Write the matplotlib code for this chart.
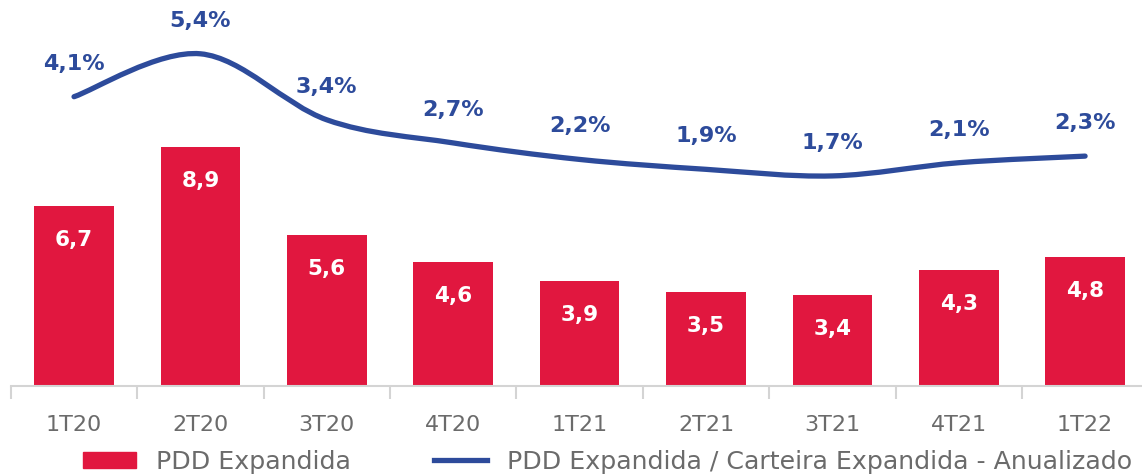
import matplotlib
matplotlib.use("Agg")
import matplotlib.pyplot as plt
import numpy as np
from matplotlib.path import Path
from matplotlib.patches import PathPatch, Patch
from matplotlib.lines import Line2D

quarters = ["1T20", "2T20", "3T20", "4T20", "1T21", "2T21", "3T21", "4T21", "1T22"]
pdd = [6.7, 8.9, 5.6, 4.6, 3.9, 3.5, 3.4, 4.3, 4.8]
ratio = [4.1, 5.4, 3.4, 2.7, 2.2, 1.9, 1.7, 2.1, 2.3]

red = "#E1173F"
blue = "#2D4B9B"
grey = "#6b6b6b"

plt.rcParams['font.family'] = ['DejaVu Sans']

fig = plt.figure(figsize=(11.42, 4.75), dpi=100)
ax = fig.add_axes([0.0095, 0.187, 0.996, 0.813])
x = np.arange(len(quarters))

# bars with value labels inside
ax.bar(x, pdd, width=0.63, color=red, zorder=2)
for xi, v in zip(x, pdd):
    ax.annotate(f"{v:.1f}".replace(".", ","), (xi, v), xytext=(0, -34),
                textcoords="offset pixels", ha="center", va="center",
                color="white", fontsize=15.5, fontweight="bold")

ax.set_xlim(-0.5, len(quarters) - 0.5)
ax.set_ylim(0, 14.35)
ax.set_yticks([])
for s in ["top", "right", "left"]:
    ax.spines[s].set_visible(False)
ax.spines["bottom"].set_color("#d4d4d4")
ax.spines["bottom"].set_linewidth(1.5)
ax.set_xticks(x)
ax.set_xticklabels(quarters, fontsize=16, color=grey)
ax.tick_params(axis="x", which="major", length=0, pad=21)
ax.set_xticks(np.arange(len(quarters) + 1) - 0.5, minor=True)
ax.tick_params(axis="x", which="minor", length=9, width=1.5, color="#d4d4d4")

# smooth ratio line on a second axis
ax2 = ax.twinx()
ax2.set_ylim(-4.67, 7.03)
ax2.axis("off")
pts = np.column_stack([x, ratio]).astype(float)
verts = [tuple(pts[0])]
codes = [Path.MOVETO]
n = len(pts)
for i in range(n - 1):
    p0 = pts[max(i - 1, 0)]
    p1 = pts[i]
    p2 = pts[i + 1]
    p3 = pts[min(i + 2, n - 1)]
    c1 = p1 + (p2 - p0) / 6
    c2 = p2 - (p3 - p1) / 6
    verts += [tuple(c1), tuple(c2), tuple(p2)]
    codes += [Path.CURVE4] * 3
ax2.add_patch(PathPatch(Path(verts, codes), facecolor="none", edgecolor=blue,
                        lw=3.8, capstyle="round", zorder=3))
for xi, v in zip(x, ratio):
    ax2.annotate(f"{v:.1f}%".replace(".", ","), (xi, v), xytext=(0, 33),
                 textcoords="offset pixels", ha="center", va="center",
                 color=blue, fontsize=16, fontweight="bold")

handles = [Patch(color=red), Line2D([0], [0], color=blue, lw=3.8)]
labels = ["PDD Expandida", "PDD Expandida / Carteira Expandida - Anualizado"]
fig.legend(handles, labels, loc="center", bbox_to_anchor=(0.532, 0.028), ncol=2,
           frameon=False, fontsize=18.2, labelcolor=grey, handlelength=2.1,
           handleheight=0.6, columnspacing=3.3, handletextpad=0.8,
           borderpad=0.1)

fig.savefig("out.png", dpi=100)
